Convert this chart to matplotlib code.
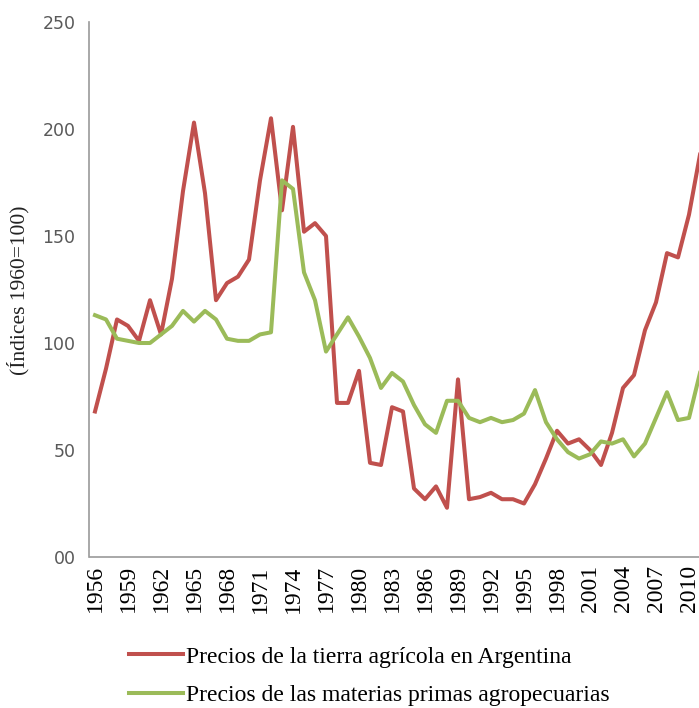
import matplotlib
matplotlib.use("Agg")
import matplotlib.pyplot as plt
from matplotlib.ticker import FixedLocator, FixedFormatter

years = list(range(1956, 2012))

tierra = [68, 88, 111, 108, 101, 120, 104, 130, 171, 203,
          170, 120, 128, 131, 139, 176, 205, 162, 201, 152,
          156, 150, 72, 72, 87, 44, 43, 70, 68, 32,
          27, 33, 23, 83, 27, 28, 30, 27, 27, 25,
          34, 46, 59, 53, 55, 50, 43, 58, 79, 85,
          106, 119, 142, 140, 160, 188]

materias = [113, 111, 102, 101, 100, 100, 104, 108, 115, 110,
            115, 111, 102, 101, 101, 104, 105, 176, 172, 133,
            120, 96, 104, 112, 103, 93, 79, 86, 82, 71,
            62, 58, 73, 73, 65, 63, 65, 63, 64, 67,
            78, 63, 55, 49, 46, 48, 54, 53, 55, 47,
            53, 65, 77, 64, 65, 86]

y_ticks = [0, 50, 100, 150, 200, 250]
y_tick_labels = ["00", "50", "100", "150", "200", "250"]
x_tick_years = list(range(1956, 2012, 3))

label_tierra = "Precios de la tierra agrícola en Argentina"
label_materias = "Precios de las materias primas agropecuarias"
y_label = "(Índices 1960=100)"

RED = "#C0504D"
GREEN = "#9BBB59"
SERIF = "Liberation Serif"

fig = plt.figure(figsize=(6.99, 7.08), dpi=100)
W, H = 699, 708
left_px, right_px, top_px, bottom_px = 89.5, 705.5, 22, 557
ax = fig.add_axes([left_px / W, 1 - bottom_px / H,
                   (right_px - left_px) / W, (bottom_px - top_px) / H])

l1, = ax.plot(years, tierra, color=RED, lw=2.9, solid_joinstyle="round",
              label=label_tierra)
l2, = ax.plot(years, materias, color=GREEN, lw=2.9, solid_joinstyle="round",
              label=label_materias)

ax.set_xlim(years[0] - 0.5, years[-1] + 0.5)
ax.set_ylim(0, 250)

ax.yaxis.set_major_locator(FixedLocator(y_ticks))
ax.yaxis.set_major_formatter(FixedFormatter(y_tick_labels))
ax.set_xticks(x_tick_years)
ax.set_xticklabels([str(y) for y in x_tick_years], rotation=90,
                   family=SERIF, fontsize=17)

ax.tick_params(axis="y", length=0, pad=10, labelsize=12.5, labelcolor="#595959")
ax.tick_params(axis="x", length=0, pad=6)

for s in ["top", "right"]:
    ax.spines[s].set_visible(False)
for s in ["left", "bottom"]:
    ax.spines[s].set_color("#9a9a9a")
    ax.spines[s].set_linewidth(1.2)

fig.text(18 / W, 1 - 290 / H, y_label, rotation=90, family=SERIF,
         fontsize=15.5, ha="center", va="center", color="#222222")

leg = fig.legend(handles=[l1, l2], loc="upper left",
                 bbox_to_anchor=(129 / W, 1 - 646 / H),
                 prop={"family": SERIF, "size": 17}, frameon=False,
                 handlelength=2.3, handletextpad=0.1, labelspacing=0.72,
                 borderpad=0, borderaxespad=0)

fig.savefig("out.png", dpi=100)
